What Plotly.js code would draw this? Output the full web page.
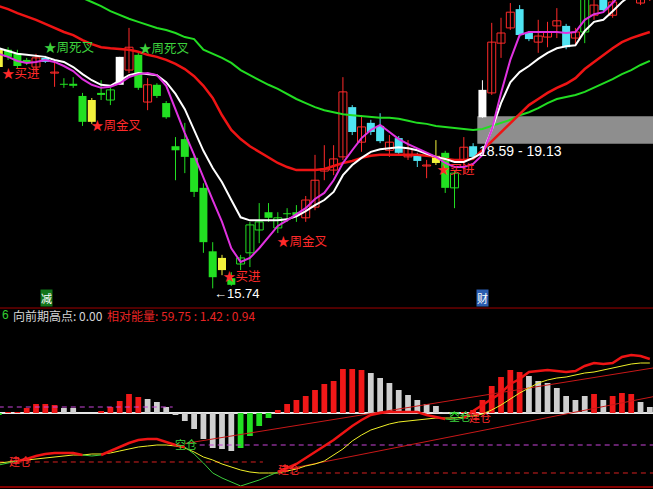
<!DOCTYPE html>
<html>
<head>
<meta charset="utf-8">
<script src="https://cdn.plot.ly/plotly-3.0.1.min.js"></script>
<style>
  html, body { margin: 0; padding: 0; background: #000; }
  #chart { width: 653px; height: 489px; }
</style>
</head>
<body>
<div id="chart"></div>
<script>
// ---- daily bars, first bar sits at position -1 ----
const firstIndex = -1;
const candleType = ['y','g','g','g','r','c','r','g','g','g','y','g','gh','w','r','g','r','g','g','g','g','g','g','g','y','g','gh','gh','gh','g','gh','g','g','r','r','r','r','r','c','r','c','c','r','c','r','c','r','y','g','gh','r','c','w','r','r','r','c','c','r','r','r','c','r','gh','r','c','r','r','r','r','r'];
const open  = [20.44,20.44,20.36,20.24,20.10,20.28,19.98,19.77,19.77,19.53,19.45,19.59,19.45,19.75,20.04,20.34,19.41,19.75,19.39,18.54,18.68,18.31,17.72,16.47,16.34,15.94,16.22,16.44,16.89,17.24,16.93,17.22,17.24,17.13,17.34,18.05,18.07,18.33,19.31,18.62,19.00,18.94,18.46,18.70,18.33,18.37,18.15,18.35,18.41,17.72,18.27,18.54,19.11,19.59,20.57,20.87,21.24,20.77,20.59,20.69,20.91,20.91,20.67,20.79,21.12,21.52,21.12,21.52,21.62,21.36,21.46];
const high  = [20.47,20.49,20.44,20.28,20.36,20.32,20.18,19.88,19.90,19.59,19.49,19.84,19.69,20.30,20.87,20.38,19.88,19.78,19.43,18.72,19.00,18.37,17.81,16.65,16.40,16.06,16.40,17.05,17.42,17.42,17.24,17.32,17.38,17.56,18.37,18.56,18.56,19.90,19.35,19.15,19.06,19.19,18.76,18.74,18.66,18.41,18.27,18.66,18.45,18.07,18.72,18.60,19.84,20.97,21.07,21.36,21.32,20.81,21.03,20.99,21.26,20.95,20.87,21.62,21.42,21.58,21.52,21.91,22.00,21.62,21.70];
const low   = [20.04,20.24,20.08,20.14,20.00,20.18,19.71,19.69,19.69,18.94,18.98,19.45,19.35,19.75,19.98,19.65,19.25,19.49,19.08,17.87,18.01,17.54,16.44,15.74,16.00,15.79,16.10,16.16,16.63,17.05,16.83,17.05,17.05,17.05,17.28,17.87,17.97,18.27,18.76,18.43,18.76,18.60,18.33,18.37,18.27,18.13,17.91,18.17,17.62,17.32,18.01,18.29,19.10,19.55,20.28,20.83,20.69,20.61,20.38,20.49,20.67,20.45,20.53,20.57,21.03,21.18,21.07,21.46,21.52,21.32,21.40];
const close = [20.10,20.30,20.12,20.18,20.28,20.20,20.00,19.75,19.73,19.02,19.02,19.55,19.65,20.30,20.49,19.69,19.75,19.53,19.11,18.46,18.33,17.64,16.65,15.96,16.10,15.81,16.34,16.99,17.05,17.13,17.13,17.20,17.18,17.48,17.87,18.09,18.29,19.61,18.82,18.92,18.82,18.64,18.62,18.41,18.50,18.25,18.17,18.21,17.72,18.01,18.52,18.33,19.65,20.59,20.77,21.18,20.73,20.65,20.71,20.79,21.01,20.49,20.79,21.52,21.32,21.22,21.38,21.81,21.91,21.52,21.62];

// ---- moving averages on the price pane ----
const maFast  = [20.36,20.30,20.22,20.18,20.20,20.24,20.20,20.12,20.02,19.86,19.75,19.69,19.71,19.78,19.90,19.96,19.98,19.94,19.73,19.25,18.80,18.37,17.91,17.48,17.05,16.53,16.26,16.34,16.53,16.75,16.97,17.08,17.20,17.32,17.50,17.62,17.87,18.21,18.46,18.70,18.86,18.96,18.82,18.68,18.58,18.50,18.41,18.33,18.21,18.13,18.13,18.19,18.37,18.86,19.59,20.24,20.73,20.79,20.79,20.79,20.79,20.77,20.79,21.03,21.14,21.18,21.36,21.58,21.72,21.81,21.91];
const maShort = [20.47,20.42,20.36,20.34,20.32,20.30,20.24,20.20,20.10,19.96,19.84,19.75,19.73,19.84,19.94,19.98,19.96,19.94,19.80,19.57,19.27,18.86,18.45,18.11,17.83,17.48,17.14,17.08,17.08,17.08,17.08,17.10,17.16,17.26,17.38,17.48,17.64,17.97,18.17,18.31,18.43,18.48,18.50,18.52,18.50,18.46,18.39,18.33,18.29,18.23,18.23,18.31,18.41,18.86,19.39,19.80,20.00,20.12,20.26,20.38,20.47,20.51,20.53,20.81,20.99,21.03,21.20,21.38,21.52,21.66,21.77];
const maMid   = [21.30,21.24,21.16,21.10,21.03,20.95,20.87,20.79,20.73,20.63,20.55,20.49,20.47,20.45,20.44,20.40,20.34,20.30,20.24,20.16,20.06,19.92,19.73,19.49,19.15,18.86,18.68,18.54,18.43,18.31,18.21,18.13,18.07,18.07,18.07,18.09,18.15,18.21,18.25,18.31,18.35,18.37,18.37,18.37,18.37,18.37,18.35,18.33,18.29,18.27,18.27,18.29,18.46,18.64,18.80,19.00,19.17,19.35,19.47,19.59,19.69,19.77,19.88,20.06,20.20,20.34,20.47,20.59,20.67,20.73,20.79];
const maLong  = [22.21,22.13,22.05,21.97,21.89,21.81,21.74,21.66,21.56,21.46,21.38,21.30,21.20,21.12,21.05,20.99,20.93,20.87,20.83,20.77,20.69,20.65,20.44,20.36,20.28,20.18,20.04,19.94,19.84,19.75,19.67,19.57,19.47,19.39,19.31,19.25,19.21,19.17,19.15,19.13,19.11,19.10,19.10,19.08,19.04,19.00,18.98,18.94,18.92,18.90,18.88,18.86,18.88,18.94,19.00,19.06,19.15,19.21,19.29,19.39,19.47,19.51,19.55,19.61,19.69,19.77,19.86,19.96,20.04,20.14,20.22];

// ---- pressure zone ----
const bandLow = 18.59, bandHigh = 19.13, bandStart = 50.45;

// ---- lower pane: energy histogram and its two lines ----
const hist = [-0.04,0.02,0.02,0.10,0.18,0.18,0.16,0.10,0.10,0.00,0.00,0.04,0.12,0.24,0.38,0.32,0.28,0.22,0.12,-0.04,-0.16,-0.32,-0.52,-0.70,-0.72,-0.76,-0.70,-0.46,-0.26,-0.10,0.06,0.18,0.26,0.34,0.46,0.58,0.64,0.88,0.88,0.86,0.80,0.70,0.60,0.46,0.36,0.26,0.18,0.14,0.02,-0.02,0.02,0.06,0.26,0.54,0.72,0.86,0.82,0.74,0.64,0.60,0.50,0.34,0.26,0.34,0.38,0.26,0.34,0.40,0.38,0.22,0.12];
const histType = ['g','r','r','r','r','r','r','w','w','w','w','r','r','r','r','r','w','w','w','w','w','w','w','w','w','w','g','g','g','g','r','r','r','r','r','r','r','r','r','r','w','w','w','w','w','w','w','w','w','g','r','r','r','r','r','r','r','w','w','w','w','w','w','w','r','w','r','r','r','w','w'];
const energyFast = [-1.04,-1.00,-0.96,-0.92,-0.86,-0.82,-0.80,-0.80,-0.80,-0.84,-0.86,-0.84,-0.76,-0.68,-0.60,-0.54,-0.52,-0.52,-0.58,-0.64,-0.68,-0.82,-1.00,-1.20,-1.30,-1.38,-1.46,-1.40,-1.34,-1.26,-1.18,-1.10,-1.02,-0.90,-0.78,-0.66,-0.54,-0.40,-0.26,-0.14,-0.04,0.00,0.02,0.02,0.02,0.02,-0.04,-0.08,-0.12,-0.14,-0.10,0.04,0.16,0.28,0.40,0.58,0.68,0.82,0.84,0.86,0.84,0.82,0.84,0.94,1.00,0.98,1.00,1.12,1.16,1.14,1.08];
const energySlow = [-1.00,-0.98,-0.96,-0.94,-0.92,-0.90,-0.88,-0.86,-0.84,-0.84,-0.82,-0.82,-0.80,-0.76,-0.72,-0.68,-0.66,-0.64,-0.64,-0.66,-0.70,-0.78,-0.88,-0.94,-1.02,-1.08,-1.14,-1.18,-1.20,-1.20,-1.20,-1.16,-1.12,-1.06,-1.02,-0.96,-0.84,-0.72,-0.56,-0.44,-0.34,-0.28,-0.22,-0.18,-0.16,-0.14,-0.12,-0.10,-0.10,-0.10,-0.08,-0.06,-0.02,0.06,0.16,0.28,0.40,0.50,0.60,0.66,0.70,0.72,0.76,0.80,0.82,0.86,0.90,0.94,0.98,1.00,1.00];

// reference levels (start, end, level)
const pinkLevelSpans = [[-1, 17.7], [20.6, 70]];
const pinkLevels = [0.12, -0.64];
const redLevelSpans = [[-1, 27.4], [30.3, 70]];
const redLevels = [-0.98, -1.20];
// trend lines (from, to)
const trendUpperX = [19, 70], trendUpperY = [-0.61, 0.92];
const trendLowerX = [29, 70], trendLowerY = [-1.16, 0.35];

// ---- signals ----
const priceSignals = [
  {text: '★周死叉', x: 6.65, y: 20.51, c: '#3dd13d', anchor: 'center'},
  {text: '★周死叉', x: 16.87, y: 20.49, c: '#3dd13d', anchor: 'center'},
  {text: '★买进',  x: -0.87, y: 20.00, c: '#ff2a2a', anchor: 'left'},
  {text: '★周金叉', x: 11.66, y: 18.96, c: '#ff2a2a', anchor: 'center'},
  {text: '★买进',  x: 25.15, y: 16.00, c: '#ff2a2a', anchor: 'center'},
  {text: '★周金叉', x: 31.66, y: 16.69, c: '#ff2a2a', anchor: 'center'},
  {text: '★买进',  x: 48.2, y: 18.11, c: '#ff2a2a', anchor: 'center'}
];
const energySignals = [
  {text: '建仓', x: 1.28, y: -0.96, c: '#ff2a2a'},
  {text: '空仓', x: 19.13, y: -0.62, c: '#3dd13d'},
  {text: '建仓', x: 30.2, y: -1.12, c: '#ff2a2a'},
  {text: '空仓', x: 48.6, y: -0.06, c: '#3dd13d'},
  {text: '建仓', x: 50.7, y: -0.08, c: '#ff2a2a'}
];

const xs = open.map((_, k) => k + firstIndex);
const CJK = '"Noto Sans CJK SC", "Noto Sans", sans-serif';
const LAT = '"Liberation Sans", Arial, sans-serif';

const candleStyle = {
  r:  {fill: '#000000', edge: '#ff2a2a'},
  gh: {fill: '#000000', edge: '#22e022'},
  g:  {fill: '#22e022', edge: '#22e022'},
  c:  {fill: '#4fe4f2', edge: '#4fe4f2'},
  y:  {fill: '#f2f23c', edge: '#f2f23c'},
  w:  {fill: '#ffffff', edge: '#ffffff'}
};

const traces = [];
const wickTraces = [], bodyTraces = [];
Object.keys(candleStyle).forEach(key => {
  const st = candleStyle[key];
  const ks = xs.map((_, k) => k).filter(k => candleType[k] === key);
  if (!ks.length) return;
  const wx = [], wy = [];
  ks.forEach(k => { wx.push(xs[k], xs[k], null); wy.push(high[k], low[k], null); });
  wickTraces.push({type: 'scatter', mode: 'lines', x: wx, y: wy, xaxis: 'x', yaxis: 'y',
    line: {color: st.edge, width: 1}, hoverinfo: 'skip'});
  bodyTraces.push({type: 'bar', x: ks.map(k => xs[k]),
    base: ks.map(k => Math.min(open[k], close[k])),
    y: ks.map(k => Math.abs(close[k] - open[k])),
    width: 0.86, xaxis: 'x', yaxis: 'y',
    marker: {color: st.fill, line: {color: st.edge, width: st.fill === '#000000' ? 1 : 0}},
    hoverinfo: 'skip'});
});
traces.push(...wickTraces, ...bodyTraces);

const maLine = (ys, color, w) => ({type: 'scatter', mode: 'lines', x: xs, y: ys, xaxis: 'x', yaxis: 'y',
  line: {color: color, width: w}, hoverinfo: 'skip', cliponaxis: true});
traces.push(maLine(maLong, '#22dd22', 2));
traces.push(maLine(maMid, '#ee1414', 2.5));
traces.push(maLine(maShort, '#ffffff', 2));
traces.push(maLine(maFast, '#e032e0', 2));

// histogram
const histColors = {r: '#f01818', w: '#cfcfcf', g: '#22e022'};
Object.keys(histColors).forEach(key => {
  const ks = xs.map((_, k) => k).filter(k => histType[k] === key && hist[k] !== 0);
  traces.push({type: 'bar', x: ks.map(k => xs[k]), y: ks.map(k => hist[k]), width: 0.62,
    xaxis: 'x2', yaxis: 'y2', marker: {color: histColors[key], line: {width: 0}}, hoverinfo: 'skip'});
});

// reference levels
const levelTrace = (spans, levels, color) => {
  const x = [], y = [];
  spans.forEach((s, j) => { x.push(s[0], s[1], null); y.push(levels[j], levels[j], null); });
  return {type: 'scatter', mode: 'lines', x, y, xaxis: 'x2', yaxis: 'y2',
    line: {color, width: 1, dash: '5px,4px'}, hoverinfo: 'skip'};
};
traces.push(levelTrace(pinkLevelSpans, pinkLevels, '#c844d8'));
traces.push(levelTrace(redLevelSpans, redLevels, '#d42020'));

traces.push({type: 'scatter', mode: 'lines', x: trendUpperX, y: trendUpperY, xaxis: 'x2', yaxis: 'y2',
  line: {color: '#c81818', width: 1}, hoverinfo: 'skip'});
traces.push({type: 'scatter', mode: 'lines', x: trendLowerX, y: trendLowerY, xaxis: 'x2', yaxis: 'y2',
  line: {color: '#c81818', width: 1}, hoverinfo: 'skip'});

traces.push({type: 'scatter', mode: 'lines', x: xs, y: energySlow, xaxis: 'x2', yaxis: 'y2',
  line: {color: '#f0f028', width: 1}, hoverinfo: 'skip'});

// fast energy line: thick red while above the slow line, thin green while below
const redRun = {x: [], y: []}, greenRun = {x: [], y: []};
let prevUp = null;
for (let k = 0; k < xs.length - 1; k++) {
  const up = (energyFast[k] - energySlow[k]) + (energyFast[k + 1] - energySlow[k + 1]) >= 0;
  const run = up ? redRun : greenRun;
  if (prevUp !== up) {
    if (run.x.length) { run.x.push(null); run.y.push(null); }
    run.x.push(xs[k]); run.y.push(energyFast[k]);
  }
  run.x.push(xs[k + 1]); run.y.push(energyFast[k + 1]);
  prevUp = up;
}
traces.push({type: 'scatter', mode: 'lines', x: greenRun.x, y: greenRun.y, xaxis: 'x2', yaxis: 'y2',
  line: {color: '#3ccc3c', width: 1}, hoverinfo: 'skip', connectgaps: false});
traces.push({type: 'scatter', mode: 'lines', x: redRun.x, y: redRun.y, xaxis: 'x2', yaxis: 'y2',
  line: {color: '#ee1414', width: 2.5}, hoverinfo: 'skip', connectgaps: false});

// annotations
const lowest = Math.min(...low);
const lowestAt = xs[low.indexOf(lowest)];
const annotations = [];
priceSignals.forEach(s => annotations.push({x: s.x, y: s.y, xref: 'x', yref: 'y', text: s.text,
  xanchor: s.anchor, showarrow: false, font: {family: CJK, size: 12.5, color: s.c}}));
energySignals.forEach(s => annotations.push({x: s.x, y: s.y, xref: 'x2', yref: 'y2', text: s.text,
  showarrow: false, font: {family: CJK, size: 11, color: s.c}}));
annotations.push({x: lowestAt - 0.05, y: lowest, yshift: -5, xref: 'x', yref: 'y', xanchor: 'left',
  text: '←' + lowest.toFixed(2), showarrow: false, font: {family: LAT, size: 13, color: '#ffffff'}});
annotations.push({x: bandStart - 0.05, y: bandLow, yshift: -7, xref: 'x', yref: 'y', xanchor: 'left',
  text: bandLow.toFixed(2) + ' - ' + bandHigh.toFixed(2), showarrow: false,
  font: {family: LAT, size: 14, color: '#ffffff'}});
annotations.push({x: 4.13, y: 15.55, xref: 'x', yref: 'y', text: '减', showarrow: false,
  bgcolor: '#13751a', borderpad: 0, font: {family: CJK, size: 11, color: '#ffffff'}});
annotations.push({x: 51.0, y: 15.55, xref: 'x', yref: 'y', text: '财', showarrow: false,
  bgcolor: '#2a5cb0', borderpad: 0, font: {family: CJK, size: 11, color: '#ffffff'}});
// status row between the panes
const rowY = 1 - 315 / 489;
annotations.push({x: 0, y: rowY, xref: 'paper', yref: 'paper', xanchor: 'left', text: '6',
  showarrow: false, font: {family: LAT, size: 12, color: '#33cc33'}});
annotations.push({x: 11 / 653, y: rowY, xref: 'paper', yref: 'paper', xanchor: 'left', text: '向前期高点: 0.00',
  showarrow: false, font: {family: CJK, size: 12, color: '#d6d6d6'}});
annotations.push({x: 105 / 653, y: rowY, xref: 'paper', yref: 'paper', xanchor: 'left',
  text: '相对能量: 59.75 : 1.42 : 0.94',
  showarrow: false, font: {family: CJK, size: 12, color: '#e82424'}});

const xRange = [-0.87, 69.34];
const hidden = {showgrid: false, zeroline: false, showticklabels: false, ticks: '', showline: false};
const layout = {
  width: 653, height: 489,
  margin: {l: 0, r: 0, t: 0, b: 0, pad: 0},
  paper_bgcolor: '#000000', plot_bgcolor: '#000000',
  showlegend: false, barmode: 'overlay',
  xaxis: Object.assign({domain: [0, 1], range: xRange, anchor: 'y'}, hidden),
  yaxis: Object.assign({domain: [0.3701, 1], range: [15.353, 21.42], anchor: 'x'}, hidden),
  xaxis2: Object.assign({domain: [0, 1], range: xRange, anchor: 'y2'}, hidden),
  yaxis2: Object.assign({domain: [0.0041, 0.3456], range: [-1.48, 1.86], anchor: 'x2'}, hidden,
    {zeroline: true, zerolinecolor: '#e6e6e6', zerolinewidth: 2}),
  shapes: [
    {type: 'rect', xref: 'x', yref: 'y', x0: bandStart, x1: 70, y0: bandLow, y1: bandHigh,
     fillcolor: '#8e8e8e', line: {width: 0}, layer: 'below'},
    {type: 'line', xref: 'paper', yref: 'y domain', x0: 0, x1: 1, y0: 0, y1: 0,
     line: {color: '#a00000', width: 1}},
    {type: 'line', xref: 'paper', yref: 'y2 domain', x0: 0, x1: 1, y0: 0, y1: 0,
     line: {color: '#b00000', width: 1.5}}
  ],
  annotations
};

Plotly.newPlot('chart', traces, layout, {staticPlot: true, displayModeBar: false});
</script>
</body>
</html>
